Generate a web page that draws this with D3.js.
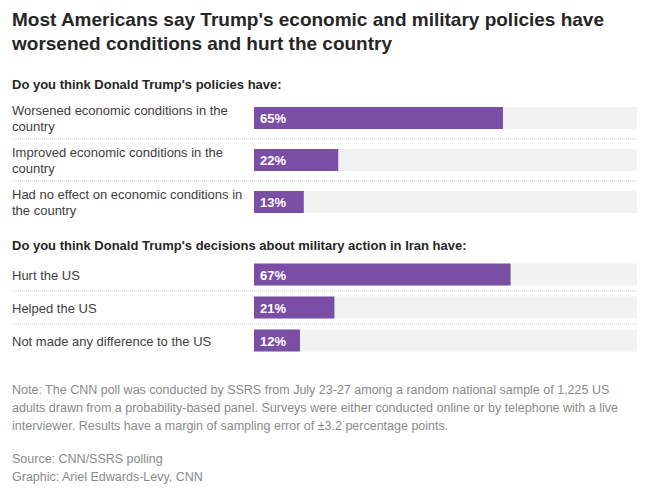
<!DOCTYPE html>
<html><head><meta charset="utf-8">
<script src="https://cdn.jsdelivr.net/npm/d3@7"></script>
<style>
body{margin:0;background:#fff;font-family:"Liberation Sans",Arial,sans-serif;}
</style></head>
<body><div id="chart"></div>
<script>
// questions and answers
const questions = ["Do you think Donald Trump's policies have:",
  "Do you think Donald Trump's decisions about military action in Iran have:"];
const econLabels = [["Worsened economic conditions in the","country"],
  ["Improved economic conditions in the","country"],
  ["Had no effect on economic conditions in","the country"]];
const econValues = [65, 22, 13];
const iranLabels = [["Hurt the US"],["Helped the US"],["Not made any difference to the US"]];
const iranValues = [67, 21, 12];
const noteLines = ["Note: The CNN poll was conducted by SSRS from July 23-27 among a random national sample of 1,225 US",
  "adults drawn from a probability-based panel. Surveys were either conducted online or by telephone with a live",
  "interviewer. Results have a margin of sampling error of \u00b13.2 percentage points."];
const creditLines = ["Source: CNN/SSRS polling", "Graphic: Ariel Edwards-Levy, CNN"];

const w = 649, h = 495;
const svg = d3.select("#chart").append("svg").attr("width", w).attr("height", h);

svg.selectAll(".title").data(["Most Americans say Trump's economic and military policies have",
  "worsened conditions and hurt the country"]).enter().append("text")
  .attr("x", 12).attr("y", (d, i) => 26 + i * 24)
  .attr("font-size", 19).attr("font-weight", "bold").attr("fill", "#262626").text(d => d);

const x = d3.scaleLinear().domain([0, 100]).range([254, 637]);

function section(q, labels, values, top, rowH) {
  svg.append("text").attr("x", 12).attr("y", top).attr("font-size", 13)
    .attr("font-weight", "bold").attr("fill", "#262626").text(q);
  const y = d3.scaleBand().domain(d3.range(values.length))
    .range([top + 8, top + 8 + rowH * values.length]);
  const g = svg.append("g");
  // separators
  g.selectAll("line").data(d3.range(1, values.length)).enter().append("line")
    .attr("x1", 12).attr("x2", 637).attr("y1", i => y(i)).attr("y2", i => y(i))
    .attr("stroke", "#ccc").attr("stroke-dasharray", "1,1");
  const row = g.selectAll("g.row").data(values).enter().append("g")
    .attr("transform", (d, i) => `translate(0,${y(i) + y.bandwidth() / 2})`);
  row.append("rect").attr("x", x(0)).attr("y", -11).attr("height", 22)
    .attr("width", x(100) - x(0)).attr("fill", "#f2f2f2");
  row.append("rect").attr("x", x(0)).attr("y", -11).attr("height", 22)
    .attr("width", d => x(d) - x(0)).attr("fill", "#7b4ea6");
  row.append("text").attr("x", x(0) + 6).attr("y", 5).attr("font-size", 13)
    .attr("font-weight", "bold").attr("fill", "#fff").text(d => d + "%");
  row.each(function(d, i) {
    const ls = labels[i];
    d3.select(this).selectAll("text.lab").data(ls).enter().append("text")
      .attr("x", 12).attr("y", (t, j) => 5 + (j - (ls.length - 1) / 2) * 16)
      .attr("font-size", 13).attr("fill", "#404040").text(t => t);
  });
}
section(questions[0], econLabels, econValues, 89, 42);
section(questions[1], iranLabels, iranValues, 250, 33);

svg.selectAll(".note").data(noteLines).enter().append("text")
  .attr("x", 12).attr("y", (d, i) => 394 + i * 18).attr("font-size", 12.5)
  .attr("fill", "#8a8a8a").text(d => d);
svg.selectAll(".credit").data(creditLines).enter().append("text")
  .attr("x", 12).attr("y", (d, i) => 463 + i * 18).attr("font-size", 12.5)
  .attr("fill", "#8a8a8a").text(d => d);
</script></body></html>
